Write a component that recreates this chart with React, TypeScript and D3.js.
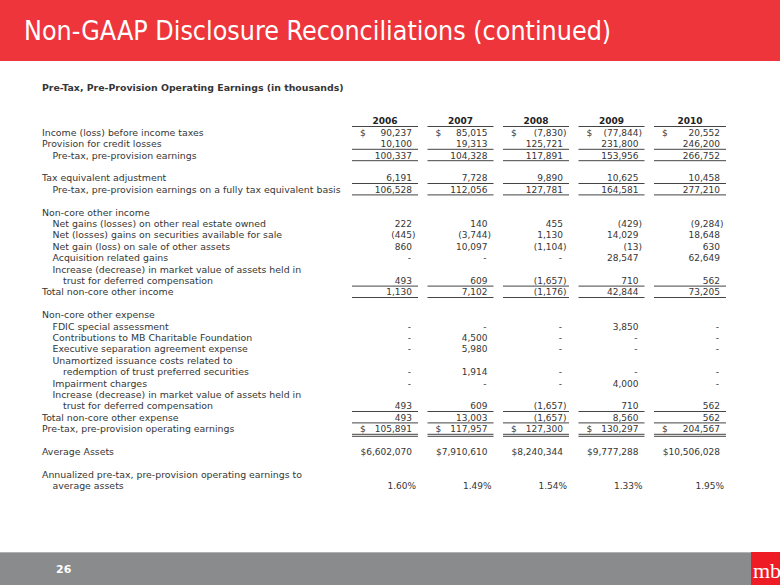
import React from "react";
import * as d3 from "d3";

// ---- data ----
const years = ["2006", "2007", "2008", "2009", "2010"];
const incomeBeforeTaxes = [90237, 85015, -7830, -77844, 20552];
const provisionForCreditLosses = [10100, 19313, 125721, 231800, 246200];
const preTaxPreProvision = [100337, 104328, 117891, 153956, 266752];
const taxEquivalentAdjustment = [6191, 7728, 9890, 10625, 10458];
const preTaxFullyTaxEquivalent = [106528, 112056, 127781, 164581, 277210];
const netGainsOreo = [222, 140, 455, -429, -9284];
const netGainsSecurities = [-445, -3744, 1130, 14029, 18648];
const netGainSaleOtherAssets = [860, 10097, -1104, -13, 630];
const acquisitionGains = [0, 0, 0, 28547, 62649];
const deferredCompIncome = [493, 609, -1657, 710, 562];
const totalNonCoreIncome = [1130, 7102, -1176, 42844, 73205];
const fdicSpecialAssessment = [0, 0, 0, 3850, 0];
const charitableContributions = [0, 4500, 0, 0, 0];
const executiveSeparation = [0, 5980, 0, 0, 0];
const unamortizedIssuanceCosts = [0, 1914, 0, 0, 0];
const impairmentCharges = [0, 0, 0, 4000, 0];
const deferredCompExpense = [493, 609, -1657, 710, 562];
const totalNonCoreExpense = [493, 13003, -1657, 8560, 562];
const operatingEarnings = [105891, 117957, 127300, 130297, 204567];
const averageAssets = [6602070, 7910610, 8240344, 9777288, 10506028];
const earningsToAssetsPct = [1.6, 1.49, 1.54, 1.33, 1.95];

type Kind = "num" | "dollar" | "assets" | "pct" | "label";
interface Row {
  i: number;
  label: string;
  indent: number;
  values?: number[];
  kind: Kind;
  line?: 0 | 1 | 2;
}

const rows: Row[] = [
  { i: 1, label: "Income (loss) before income taxes", indent: 0, values: incomeBeforeTaxes, kind: "dollar" },
  { i: 2, label: "Provision for credit losses", indent: 0, values: provisionForCreditLosses, kind: "num", line: 1 },
  { i: 3, label: "Pre-tax, pre-provision earnings", indent: 1, values: preTaxPreProvision, kind: "num", line: 1 },
  { i: 5, label: "Tax equivalent adjustment", indent: 0, values: taxEquivalentAdjustment, kind: "num", line: 1 },
  { i: 6, label: "Pre-tax, pre-provision earnings on a fully tax equivalent basis", indent: 1, values: preTaxFullyTaxEquivalent, kind: "num", line: 1 },
  { i: 8, label: "Non-core other income", indent: 0, kind: "label" },
  { i: 9, label: "Net gains (losses) on other real estate owned", indent: 1, values: netGainsOreo, kind: "num" },
  { i: 10, label: "Net (losses) gains on securities available for sale", indent: 1, values: netGainsSecurities, kind: "num" },
  { i: 11, label: "Net gain (loss) on sale of other assets", indent: 1, values: netGainSaleOtherAssets, kind: "num" },
  { i: 12, label: "Acquisition related gains", indent: 1, values: acquisitionGains, kind: "num" },
  { i: 13, label: "Increase (decrease) in market value of assets held in", indent: 1, kind: "label" },
  { i: 14, label: "trust for deferred compensation", indent: 2, values: deferredCompIncome, kind: "num", line: 1 },
  { i: 15, label: "Total non-core other income", indent: 0, values: totalNonCoreIncome, kind: "num", line: 1 },
  { i: 17, label: "Non-core other expense", indent: 0, kind: "label" },
  { i: 18, label: "FDIC special assessment", indent: 1, values: fdicSpecialAssessment, kind: "num" },
  { i: 19, label: "Contributions to MB Charitable Foundation", indent: 1, values: charitableContributions, kind: "num" },
  { i: 20, label: "Executive separation agreement expense", indent: 1, values: executiveSeparation, kind: "num" },
  { i: 21, label: "Unamortized issuance costs related to", indent: 1, kind: "label" },
  { i: 22, label: "redemption of trust preferred securities", indent: 2, values: unamortizedIssuanceCosts, kind: "num" },
  { i: 23, label: "Impairment charges", indent: 1, values: impairmentCharges, kind: "num" },
  { i: 24, label: "Increase (decrease) in market value of assets held in", indent: 1, kind: "label" },
  { i: 25, label: "trust for deferred compensation", indent: 2, values: deferredCompExpense, kind: "num", line: 1 },
  { i: 26, label: "Total non-core other expense", indent: 0, values: totalNonCoreExpense, kind: "num", line: 1 },
  { i: 27, label: "Pre-tax, pre-provision operating earnings", indent: 0, values: operatingEarnings, kind: "dollar", line: 2 },
  { i: 29, label: "Average Assets", indent: 0, values: averageAssets, kind: "assets" },
  { i: 31, label: "Annualized pre-tax, pre-provision operating earnings to", indent: 0, kind: "label" },
  { i: 32, label: "average assets", indent: 1, values: earningsToAssetsPct, kind: "pct" },
];

const W = 780;
const H = 585;
const FONT = "Verdana, 'DejaVu Sans', sans-serif";
const TXT = "#363636";

const yRow = d3.scaleLinear().domain([0, 1]).range([121, 132.4]);
const colStart = d3.scaleLinear().domain([0, 1]).range([352, 427.5]);
const colWidth = (c: number) => (c === 4 ? 72 : 66);
const colEnd = (c: number) => colStart(c) + colWidth(c);
const colRight = (c: number) => colEnd(c) - 6;
const indentX = d3.scaleLinear().domain([0, 1]).range([42, 52.5]);
const fmt = d3.format(",");
const fmtPct = d3.format(".2f");

function Cell({ v, c, y, kind }: { v: number; c: number; y: number; kind: Kind }) {
  const r = colRight(c);
  const base = y + 3.3;
  const out: React.ReactNode[] = [];
  if (kind === "dollar") {
    out.push(
      <text key="d" x={colStart(c) + 8} y={base}>
        $
      </text>
    );
  }
  if (kind === "assets") {
    out.push(
      <text key="v" x={r} y={base} textAnchor="end">
        {"$" + fmt(v)}
      </text>
    );
  } else if (kind === "pct") {
    out.push(
      <text key="v" x={r + 4} y={base} textAnchor="end">
        {fmtPct(v) + "%"}
      </text>
    );
  } else if (v === 0) {
    out.push(
      <text key="v" x={r - 1} y={base} textAnchor="end">
        -
      </text>
    );
  } else if (v < 0) {
    out.push(
      <text key="v" x={r} y={base} textAnchor="end">
        {"(" + fmt(-v)}
      </text>
    );
    out.push(
      <text key="p" x={r} y={base}>
        )
      </text>
    );
  } else {
    out.push(
      <text key="v" x={r} y={base} textAnchor="end">
        {fmt(v)}
      </text>
    );
  }
  return <g>{out}</g>;
}

export default function App() {
  const cols = d3.range(years.length);
  return (
    <svg
      width={W}
      height={H}
      viewBox={`0 0 ${W} ${H}`}
      style={{ position: "absolute", left: 0, top: 0, display: "block", background: "#fff" }}
    >
      {/* title bar */}
      <rect x={0} y={0} width={W} height={61} fill="#ee353b" />
      <text
        x={24}
        y={40}
        fill="#ffffff"
        fontFamily="Tahoma, 'DejaVu Sans Condensed', 'DejaVu Sans', sans-serif"
        fontSize={26.6}
      >
        Non-GAAP Disclosure Reconciliations (continued)
      </text>

      {/* subtitle */}
      <text x={42} y={91} fill={TXT} fontFamily={FONT} fontSize={9.4} fontWeight="bold">
        Pre-Tax, Pre-Provision Operating Earnings (in thousands)
      </text>

      <g fontFamily={FONT} fontSize={9} fill={TXT}>
        {/* headers */}
        {cols.map((c) => (
          <g key={"h" + c}>
            <text
              x={(colStart(c) + colEnd(c)) / 2}
              y={yRow(0) + 3.3}
              textAnchor="middle"
              fontWeight="bold"
              fill="#222"
            >
              {years[c]}
            </text>
            <line x1={colStart(c)} x2={colEnd(c)} y1={yRow(0) + 5.5} y2={yRow(0) + 5.5} stroke="#444" strokeWidth={1} />
          </g>
        ))}

        {rows.map((row) => {
          const y = yRow(row.i);
          return (
            <g key={"r" + row.i}>
              <text x={indentX(row.indent)} y={y + 3.3} fontSize={9.4}>
                {row.label}
              </text>
              {row.values &&
                cols.map((c) => <Cell key={c} v={row.values![c]} c={c} y={y} kind={row.kind} />)}
              {row.line &&
                cols.map((c) => (
                  <g key={"l" + c}>
                    <line x1={colStart(c)} x2={colEnd(c)} y1={y + 5.5} y2={y + 5.5} stroke="#444" strokeWidth={1} />
                    {row.line === 2 && (
                      <line x1={colStart(c)} x2={colEnd(c)} y1={y + 7.5} y2={y + 7.5} stroke="#444" strokeWidth={1} />
                    )}
                  </g>
                ))}
            </g>
          );
        })}
      </g>

      {/* footer */}
      <rect x={0} y={552} width={W} height={33} fill="#8a8b8d" />
      <line x1={0} x2={W} y1={552.5} y2={552.5} stroke="#b0b1b3" strokeWidth={1} />
      <text x={56} y={573} fill="#fff" fontFamily={FONT} fontSize={11} fontWeight="bold">
        26
      </text>
      <rect x={751} y={552} width={29} height={33} fill="#ee1c24" />
      <text x={753} y={578} fill="#fff" fontFamily="'Liberation Serif', 'DejaVu Serif', serif" fontSize={22}>
        mb
      </text>
    </svg>
  );
}
